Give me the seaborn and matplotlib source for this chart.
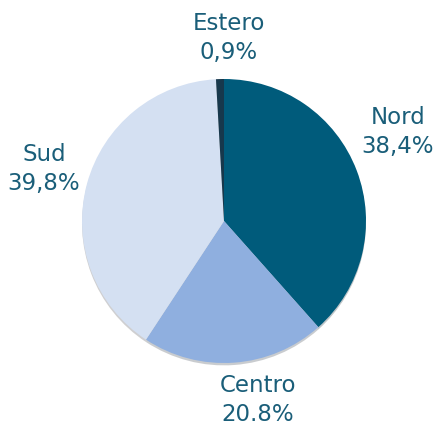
import matplotlib
matplotlib.use("Agg")
import matplotlib.pyplot as plt
import seaborn as sns

categories = ["Nord", "Centro", "Sud", "Estero"]
values = [38.4, 20.8, 39.8, 0.9]
value_labels = ["38,4%", "20.8%", "39,8%", "0,9%"]
colors = ["#005b7b", "#8fafdf", "#d4e0f2", "#17384c"]

sns.set_theme(style="white")
plt.rcParams['font.family'] = ['DejaVu Sans']

W, H = 435, 428
fig = plt.figure(figsize=(W / 100, H / 100), dpi=100)
ax = fig.add_axes([0, 0, 1, 1])
R = 142.0
cx, cy = 224.0, 221.0

ax.pie(values, colors=colors, startangle=90, counterclock=False, radius=1.0,
       shadow=dict(ox=0.0, oy=-0.012, alpha=0.25),
       wedgeprops=dict(linewidth=0))

ax.set_xlim(-cx / R, (W - cx) / R)
ax.set_ylim(-(H - cy) / R, cy / R)
ax.set_aspect("equal")
ax.axis("off")

# label block centers in pixel coordinates
label_px = {"Nord": (398, 132), "Centro": (258, 400), "Sud": (44, 169), "Estero": (229, 38)}
txt_color = "#1a5e79"
for cat, lab in zip(categories, value_labels):
    px, py = label_px[cat]
    x = (px - cx) / R
    y = (cy - py) / R
    ax.text(x, y, f"{cat}\n{lab}", ha="center", va="center", fontsize=16.5,
            color=txt_color, linespacing=1.3)

fig.savefig("out.png", dpi=100)
